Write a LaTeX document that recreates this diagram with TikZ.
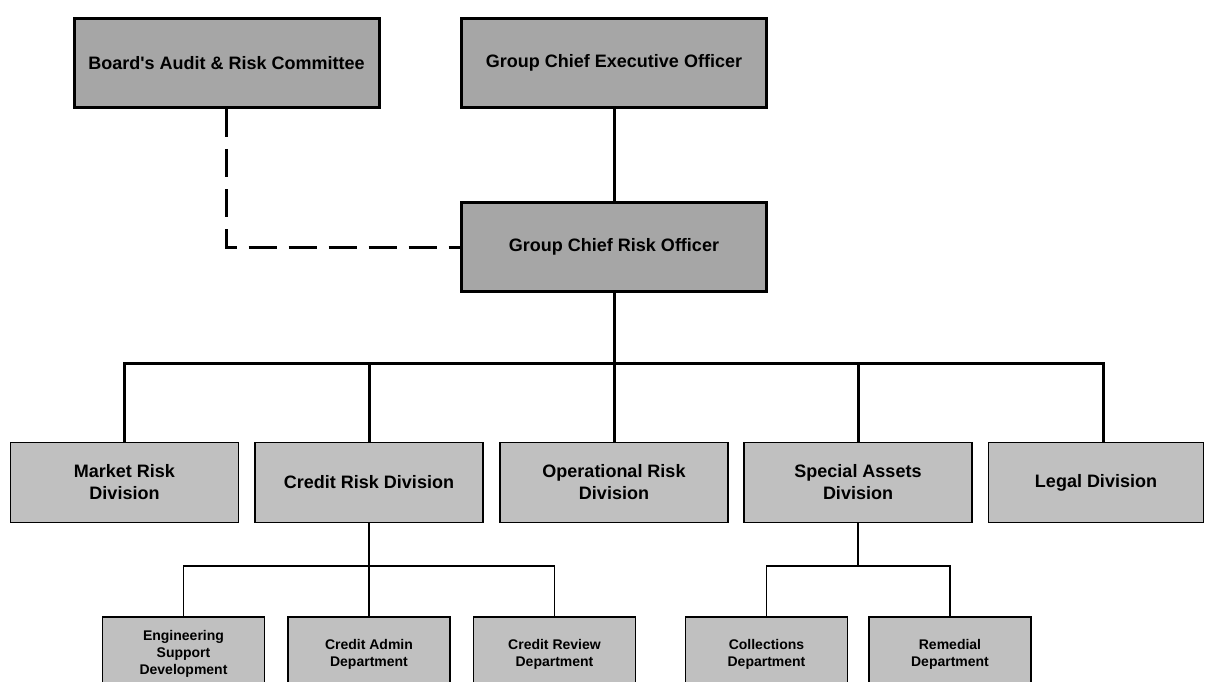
\documentclass[tikz,border=0pt]{standalone}
\usepackage{fontspec}
% plain family: no TeX ligature mapping, so ' stays a straight apostrophe
\newfontfamily\chartfont{Liberation Sans}
\definecolor{topfill}{HTML}{A6A6A6}
\definecolor{divfill}{HTML}{C0C0C0}
\tikzset{
  topbox/.style={draw, line width=3pt, fill=topfill, minimum width=305pt, minimum height=89pt,
    align=center, font=\chartfont\bfseries\fontsize{18}{22}\selectfont, inner sep=0pt},
  divbox/.style={draw, line width=1.5pt, fill=divfill, minimum width=228pt, minimum height=80pt,
    align=center, font=\chartfont\bfseries\fontsize{18}{22}\selectfont, inner sep=0pt},
  subbox/.style={draw, line width=1.5pt, fill=divfill, minimum width=162pt, minimum height=74pt,
    align=center, font=\chartfont\bfseries\fontsize{14}{17}\selectfont, inner sep=0pt},
  heavyline/.style={line width=3pt},
  dashline/.style={line width=3pt, dash pattern=on 28pt off 12pt},
  thinline/.style={line width=1.5pt}
}
\begin{document}
\begin{tikzpicture}[x=1pt,y=-1pt]
\clip (0,0) rectangle (1205,682);
\fill[white] (0,0) rectangle (1205,682);

% top level
\node[topbox] (barc) at (226.5,63) {Board's Audit \& Risk Committee};
\node[topbox] (gceo) at (614,63) {Group Chief Executive Officer};
\node[topbox] (gcro) at (614,247) {Group Chief Risk Officer};

% divisions
\node[divbox, minimum width=228pt] (market) at (124.5,482.5) {Market Risk\\Division};
\node[divbox] (credit) at (369,482.5) {Credit Risk Division};
\node[divbox] (oper) at (614,482.5) {Operational Risk\\Division};
\node[divbox] (special) at (858,482.5) {Special Assets\\Division};
\node[divbox, minimum width=215pt] (legal) at (1096,482.5) {Legal Division};

% departments
\node[subbox] (eng) at (183.5,654) {Engineering\\Support\\Development};
\node[subbox] (cadmin) at (369,654) {Credit Admin\\Department};
\node[subbox] (creview) at (554.5,654) {Credit Review\\Department};
\node[subbox] (collect) at (766.5,654) {Collections\\Department};
\node[subbox] (remed) at (950,654) {Remedial\\Department};

% reporting lines
\draw[heavyline] (gceo) -- (gcro);
\draw[dashline] (barc.south) |- (gcro.west);

\coordinate (bar) at (614,363);
\coordinate (legaljoin) at (1103,442.5);
\draw[heavyline] (gcro.south) -- (bar);
\draw[heavyline] (market.north) |- (bar);
\draw[heavyline] (credit.north) |- (bar);
\draw[heavyline] (oper.north) |- (bar);
\draw[heavyline] (special.north) |- (bar);
\draw[heavyline] (legaljoin) |- (bar);

\coordinate (cbar) at (369,566);
\draw[thinline] (credit.south) -- (cbar);
\draw[thinline] (eng.north) |- (cbar);
\draw[thinline] (cadmin.north) -- (cbar);
\draw[thinline] (creview.north) |- (cbar);

\coordinate (sbar) at (858,566);
\draw[thinline] (special.south) -- (sbar);
\draw[thinline] (collect.north) |- (sbar);
\draw[thinline] (remed.north) |- (sbar);
\end{tikzpicture}
\end{document}
